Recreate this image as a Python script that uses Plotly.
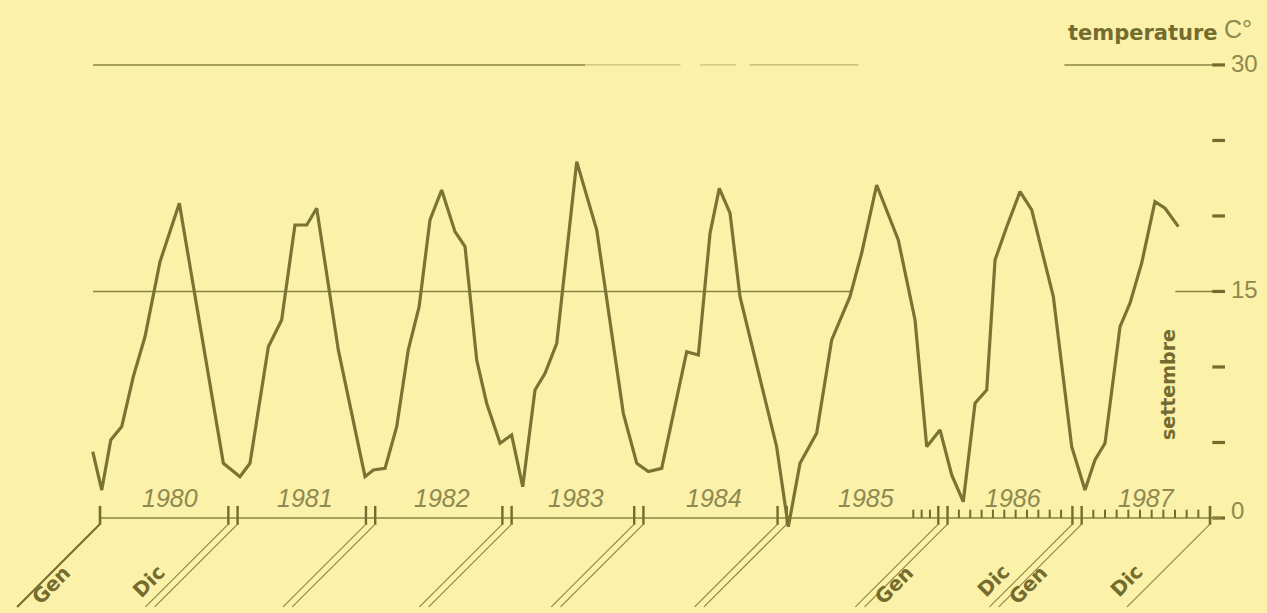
import plotly.graph_objects as go

# ---------------- data ----------------
# position on the time axis, in months counted from the start of January 1980
months = [-0.63, 0.15, 0.93, 1.88, 2.88, 3.89, 5.19, 6.86, 10.67, 12.1, 12.97, 14.56,
          15.71, 16.86, 17.88, 18.74, 20.61, 22.92, 23.64, 24.65, 25.66, 26.66, 27.6,
          28.54, 29.55, 30.7, 31.57, 32.58, 33.44, 34.6, 35.6, 36.56, 37.62, 38.49,
          39.5, 41.23, 42.96, 45.26, 46.42, 47.42, 48.58, 50.74, 51.75, 52.76, 53.56,
          54.49, 55.35, 58.52, 59.53, 60.54, 61.98, 63.28, 64.86, 65.87, 67.17, 69.04,
          70.49, 71.5, 72.65, 73.66, 74.66, 75.68, 76.69, 77.41, 78.42, 79.57, 80.58,
          82.45, 84.04, 85.19, 86.05, 86.92, 88.22, 89.08, 90.09, 91.24, 92.11, 93.26]
# temperature in degrees C
temps = [4.39, 1.85, 5.17, 6.05, 9.36, 12.0, 16.97, 20.84, 3.62, 2.74, 3.62, 11.34,
         13.11, 19.40, 19.40, 20.51, 11.13, 2.74, 3.18, 3.29, 6.05, 11.13, 14.0,
         19.74, 21.72, 18.96, 17.97, 10.46, 7.6, 4.95, 5.5, 2.07, 8.48, 9.58,
         11.57, 23.6, 19.07, 6.93, 3.62, 3.07, 3.29, 11.01, 10.79, 18.85, 21.83,
         20.18, 14.66, 4.72, -0.58, 3.62, 5.61, 11.79, 14.66, 17.53, 22.05, 18.41,
         13.11, 4.72, 5.83, 2.85, 1.08, 7.6, 8.48, 17.09, 19.29, 21.61, 20.4,
         14.66, 4.72, 1.85, 3.84, 4.95, 12.67, 14.22, 16.87, 20.95, 20.51, 19.29]

years = ["1980", "1981", "1982", "1983", "1984", "1985", "1986", "1987"]
# year boundary ticks on the time axis (months), as drawn
year_bounds = [0, 11.5, 23.4, 35.2, 46.6, 59.0, 72.9, 84.5, 96.0]
y_major_ticks = [0, 15, 30]
y_major_labels = ["0", "15", "30"]
y_minor_ticks = [5, 10, 20, 25]
month_gen = "Gen"
month_dic = "Dic"

# ---------------- styling ----------------
W, H = 1267, 613
X_RANGE = [-8.65, 100.93]
Y_RANGE = [-6.29, 34.30]
MPX = (X_RANGE[1] - X_RANGE[0]) / W   # months per pixel
DPX = (Y_RANGE[1] - Y_RANGE[0]) / H   # degrees per pixel

BG = "#fbf1a8"
LINE = "#7b7333"
DARK = "#746c2f"
LIGHT = "#8e8950"
RULE = "#8a8444"

shapes = []


def seg(x0, y0, x1, y1, w=1.5, color=RULE, opacity=1.0):
    shapes.append(dict(type="line", xref="x", yref="y", x0=x0, y0=y0, x1=x1, y1=y1,
                       line=dict(color=color, width=w), opacity=opacity, layer="below"))


# horizontal rules at 30 and 15 (broken, as in the scan)
seg(-0.6, 30, 41.95, 30, 1.6)
seg(41.95, 30, 50.2, 30, 1.3, opacity=0.45)
seg(51.9, 30, 55.0, 30, 1.3, opacity=0.45)
seg(56.2, 30, 65.6, 30, 1.3, opacity=0.55)
seg(83.4, 30, 97.0, 30, 1.4)
seg(-0.6, 15, 64.9, 15, 1.6)
seg(93.0, 15, 97.0, 15, 1.4)

# right-hand scale dashes
axis_x0 = 96.2
axis_x1 = 97.3
for v in y_major_ticks + y_minor_ticks:
    seg(axis_x0, v, axis_x1, v, 3.2, DARK)

# baseline
seg(0, 0, 97.0, 0, 1.5)

# year boundary ticks
up_major = 0.8
down_major = -0.45
seg(year_bounds[0], down_major, year_bounds[0], up_major, 2.6, DARK)
seg(year_bounds[-1], down_major, year_bounds[-1], up_major, 2.6, DARK)
half = 0.4
for b in year_bounds[1:-1]:
    seg(b - half, down_major, b - half, up_major, 2.4, DARK)
    seg(b + half, down_major, b + half, up_major, 2.4, DARK)

# monthly ticks from autumn 1985 to the end of 1987
minor = [year_bounds[6] - half - k * 0.72 for k in range(1, 4)]
for i in (6, 7):
    g = year_bounds[i] + half
    d = year_bounds[i + 1] - (half if i + 1 < len(year_bounds) - 1 else 0)
    for j in range(1, 11):
        minor.append(g + j * (d - g) / 11)
for m in minor:
    seg(m, 0, m, 0.55, 2.0, DARK)

# diagonal leaders
diag_top = -0.40
diag_bot = -5.89
dx = (diag_top - diag_bot) / DPX * MPX
seg(year_bounds[0], diag_top, year_bounds[0] - dx, diag_bot, 2.0, DARK)
seg(year_bounds[-1], diag_top, year_bounds[-1] - dx, diag_bot, 1.1)
for b in year_bounds[1:-1]:
    seg(b - half, diag_top, b - half - dx, diag_bot, 1.1)
    seg(b + half, diag_top, b + half - dx, diag_bot, 1.1)

fig = go.Figure()
fig.add_trace(go.Scatter(x=months, y=temps, mode="lines",
                         line=dict(color=LINE, width=3.2), hoverinfo="skip",
                         showlegend=False))

ann = []
# year labels
for i, yr in enumerate(years):
    xc = (year_bounds[i] + year_bounds[i + 1]) / 2 + 0.3
    ann.append(dict(x=xc, y=1.32, xref="x", yref="y", text=yr, showarrow=False,
                    font=dict(family="Liberation Sans", size=25, color=LIGHT, style="italic")))

# Gen / Dic labels along the leaders
gen_dx = -49 * MPX
dic_dx = -84 * MPX
gen_y = Y_RANGE[1] - 585 * DPX
dic_y = Y_RANGE[1] - 581 * DPX
lab_font = dict(family="DejaVu Sans", size=20, color=DARK, weight="bold")
for b, t in [(year_bounds[0], month_gen), (year_bounds[6], month_gen), (year_bounds[7], month_gen)]:
    ann.append(dict(x=b + gen_dx, y=gen_y, xref="x", yref="y", text=t, showarrow=False,
                    textangle=-45, font=lab_font))
for b, t in [(year_bounds[1], month_dic), (year_bounds[7], month_dic), (year_bounds[8], month_dic)]:
    ann.append(dict(x=b + dic_dx, y=dic_y, xref="x", yref="y", text=t, showarrow=False,
                    textangle=-45, font=lab_font))

# right-hand scale numbers
for v, t in zip(y_major_ticks, y_major_labels):
    ann.append(dict(x=97.6, y=v + (0.5 if v == 0 else 0.1), xref="x", yref="y", text=t,
                    showarrow=False, xanchor="left", yanchor="middle",
                    font=dict(family="Liberation Sans", size=24, color=LIGHT)))

# axis title
ann.append(dict(x=1220 / W, y=1 - 33 / H, xref="paper", yref="paper", text="temperature",
                showarrow=False, xanchor="right", yanchor="middle",
                font=dict(family="DejaVu Sans", size=21, color=DARK, weight="bold")))
ann.append(dict(x=1222 / W, y=1 - 29 / H, xref="paper", yref="paper", text="C°",
                showarrow=False, xanchor="left", yanchor="middle",
                font=dict(family="Liberation Sans", size=25, color=LIGHT)))
ann.append(dict(x=1168 / W, y=1 - 385 / H, xref="paper", yref="paper", text="settembre",
                showarrow=False, textangle=-90, xanchor="center", yanchor="middle",
                font=dict(family="DejaVu Sans", size=19, color=DARK, weight="bold")))

fig.update_layout(
    width=W, height=H,
    margin=dict(l=0, r=0, t=0, b=0),
    paper_bgcolor=BG, plot_bgcolor=BG,
    xaxis=dict(range=X_RANGE, visible=False, fixedrange=True),
    yaxis=dict(range=Y_RANGE, visible=False, fixedrange=True),
    shapes=shapes, annotations=ann, showlegend=False,
)

fig.write_html("out.html", config={"displayModeBar": False},
               post_script="document.body.style.margin='0';document.body.style.overflow='hidden';")
